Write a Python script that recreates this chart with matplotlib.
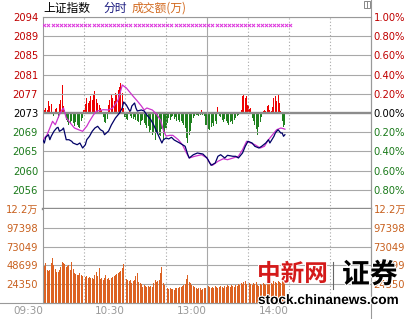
import matplotlib
matplotlib.use('Agg')
import matplotlib.pyplot as plt
from matplotlib.lines import Line2D
from matplotlib.patches import Rectangle
import matplotlib.patheffects as pe

plt.rcParams['font.family'] = ['DejaVu Sans', 'Noto Sans CJK SC']

# ---------------- data ----------------
P0 = 2073.4  # previous close
price_labels = ["2056", "2060", "2065", "2069", "2073", "2077", "2081", "2085", "2089", "2094"]
pct_labels = ["0.80%", "0.60%", "0.40%", "0.20%", "0.00%", "0.20%", "0.40%", "0.60%", "0.80%", "1.00%"]
pct_values = [-0.8, -0.6, -0.4, -0.2, 0.0, 0.2, 0.4, 0.6, 0.8, 1.0]
vol_ticks = [24350, 48699, 73049, 97398, 121747]
vol_labels = ["24350", "48699", "73049", "97398", "12.2万"]
time_ticks = [0, 60, 120, 180]
time_labels = ["09:30", "10:30", "13:00", "14:00"]

navy_t = [0, 1, 2, 4, 5, 6, 8, 10, 11, 12, 14, 15, 17, 19, 21, 22, 25, 27, 29, 31,
          32, 34, 36, 38, 40, 42, 44, 45, 48, 50, 53, 56, 58, 59, 61, 63, 64, 65, 67, 68,
          69, 72, 74, 76, 79, 81, 83, 86, 87, 88, 90, 92, 94, 96, 100, 104, 106, 107, 110, 113,
          117, 120, 123, 126, 128, 130, 133, 135, 139, 141, 143, 146, 148, 150, 153, 155, 158, 160, 163, 165,
          166, 169, 170, 172, 174, 175, 176, 177]
navy_v = [2067.57, 2066.92, 2068.15, 2068.71, 2067.63, 2068.37, 2069.45, 2070.16, 2070.31, 2069.45,
          2069.79, 2070.16, 2067.63, 2067.63, 2067.29, 2066.92, 2066.55, 2066.92, 2065.84, 2066.55,
          2067.63, 2068.37, 2069.45, 2070.16, 2070.53, 2069.79, 2069.45, 2068.71, 2069.51, 2070.81,
          2072.32, 2073.40, 2074.48, 2075.78, 2075.13, 2074.05, 2073.83, 2074.91, 2075.56, 2074.48,
          2073.83, 2074.05, 2073.83, 2072.97, 2071.89, 2070.81, 2069.51, 2067.57, 2066.92, 2067.57,
          2068.00, 2067.80, 2068.15, 2067.57, 2066.92, 2066.21, 2064.39, 2063.68, 2064.39, 2064.76,
          2064.54, 2063.68, 2062.10, 2062.60, 2064.05, 2064.39, 2063.68, 2064.26, 2064.05, 2064.05,
          2063.68, 2064.76, 2066.21, 2067.29, 2066.92, 2066.21, 2065.84, 2066.21, 2066.92, 2067.63,
          2066.92, 2068.37, 2069.08, 2069.79, 2069.08, 2069.08, 2068.37, 2068.71]

mag_t = [0, 3, 5, 7, 9, 11, 12, 14, 15, 17, 21, 23, 26, 29, 32, 34, 37, 39, 44, 48,
         51, 55, 58, 61, 64, 66, 69, 72, 74, 76, 80, 83, 86, 88, 90, 93, 95, 99, 102, 105,
         107, 111, 116, 120, 122, 124, 128, 132, 135, 139, 143, 146, 149, 152, 155, 159, 162, 165, 169, 171,
         174, 176, 177]
mag_v = [2067.57, 2068.71, 2070.16, 2071.61, 2070.87, 2072.32, 2073.03, 2074.11, 2074.48, 2072.32,
         2070.87, 2070.16, 2069.79, 2069.45, 2070.53, 2071.61, 2073.03, 2073.77, 2074.11, 2074.05,
         2074.48, 2076.21, 2079.45, 2078.80, 2077.72, 2077.00, 2075.99, 2074.91, 2074.05, 2074.48,
         2074.05, 2073.18, 2071.89, 2069.73, 2068.43, 2068.58, 2068.58, 2067.63, 2066.55, 2064.76,
         2063.68, 2064.05, 2064.39, 2063.68, 2062.60, 2062.10, 2062.97, 2063.53, 2063.31, 2063.68,
         2064.05, 2065.47, 2067.29, 2066.92, 2066.55, 2065.84, 2066.21, 2067.63, 2069.08, 2069.79,
         2070.16, 2070.01, 2069.90]

breadth = [-10, 3, 5, 3, 12, 7, 9, 0, -3, 4,
           5, -5, 9, 13, 28, 7, 3, -7, -9, -12,
           -11, -8, -10, -13, -9, -12, -14, -15, -8, -5,
           3, 9, 15, 10, 12, 17, 13, 18, 22, 14,
           10, 8, 5, 3, -4, -9, -10, -6, 8, 13,
           18, 15, 12, 20, 18, 23, 26, 30, 20, 5,
           -4, -6, -7, 2, -3, -5, -6, -4, -7, -8,
           -9, -12, -8, -7, -10, -12, -15, -13, -20, -17,
           -22, -19, -27, -18, -20, -22, -23, -16, -27, -20,
           -15, -10, -5, -7, -4, -3, -6, -4, -8, -7,
           -9, -8, -10, -12, -15, -25, -30, -22, -18, -10,
           -5, -3, -2, -2, -3, -2, 3, -2, -3, -12,
           -12, -16, -17, -14, -10, -13, -8, -11, 6, -3,
           -4, -7, -9, -6, -8, -10, -12, -9, -8, -11,
           -7, -5, -3, -2, 0, 3, 17, 18, 15, 17,
           8, 4, 5, -5, -8, -12, -16, -22, -14, -9,
           -4, 2, 3, 2, 7, 8, 3, 2, 6, 15,
           17, 12, 18, 10, 2, -8, -14, -12]

volume = [112780, 47420, 51260, 42290, 41010, 42290, 51260, 57670, 48700, 43570,
          39730, 39730, 42290, 46140, 52550, 51260, 49980, 46140, 47420, 48700,
          42290, 52550, 43570, 38450, 37170, 35890, 35890, 38450, 35890, 34600,
          33320, 33320, 34600, 32040, 33320, 32040, 32040, 30760, 35890, 39730,
          34600, 44860, 30760, 32040, 29480, 32040, 35890, 30760, 32040, 29480,
          32040, 33320, 34600, 35890, 37170, 38450, 39730, 41010, 44860, 49980,
          33320, 30760, 29480, 28200, 29480, 25630, 28200, 29480, 34600, 38450,
          26910, 25630, 24350, 20510, 23070, 21790, 20510, 21790, 20510, 21790,
          20510, 25630, 29480, 26910, 28200, 29480, 38450, 46140, 25630, 23070,
          20510, 19220, 17940, 19220, 17940, 17940, 16660, 19220, 19220, 19220,
          20510, 20510, 21790, 23070, 24350, 30760, 35890, 26910, 25630, 23070,
          21790, 20510, 19220, 17940, 19220, 19220, 16660, 17940, 19220, 19220,
          42290,
          21790, 20510, 19220, 20510, 19220, 21790, 20510, 19220, 20510, 21790,
          20510, 19220, 21790, 20510, 23070, 21790, 20510, 23070, 21790, 20510,
          23070, 21790, 24350, 23070, 25630, 24350, 26910, 28200, 24350, 23070,
          25630, 24350, 23070, 25630, 24350, 26910, 23070, 21790, 24350, 23070,
          25630, 24350, 23070, 25630, 24350, 26910, 25630, 24350, 28200, 26910,
          25630, 28200, 26910, 25630, 28200, 26910, 25630]

marker_minutes = list(range(1, 184, 3))
marker_level = 2092.4

minutes = list(range(len(volume)))

# ---------------- style ----------------
W, H = 411, 319
GRID = '#a8a8a8'
BORDER = '#999999'
RED_LBL = '#c00000'
GRN_LBL = '#1a7a1a'
VOL_LBL = '#c8601e'
RED_BAR = '#ee0000'
GRN_BAR = '#1e801e'
VOL_BAR = '#dc6222'
NAVY = '#000066'
MAG = '#cc33cc'

fig = plt.figure(figsize=(W / 100, H / 100), dpi=100, facecolor='white')


def rect(x0, y0, x1, y1):
    return [x0 / W, 1 - y1 / H, (x1 - x0) / W, (y1 - y0) / H]


price_rect = rect(43, 17, 371, 209)
vol_rect = rect(43, 209, 371, 303)

# breadth bars (own scale, below price axes)
ax_b = fig.add_axes(price_rect)
ax_b.set_xlim(0, 240)
ax_b.set_ylim(-96, 96)
ax_b.axis('off')
ax_b.bar(minutes, breadth, width=0.75, linewidth=0,
         color=[RED_BAR if v > 0 else GRN_BAR for v in breadth])

# price axes
ax_p = fig.add_axes(price_rect)
ax_p.patch.set_alpha(0)
ax_p.set_xlim(0, 240)
ax_p.set_ylim(P0 * 0.99, P0 * 1.01)
levels = [P0 * (1 + q / 100) for q in pct_values]
for lv, q in zip(levels, pct_values):
    if q == 0:
        ax_p.axhline(lv, color='#8c8c8c', lw=1.7, zorder=1)
    else:
        ax_p.axhline(lv, color=GRID, lw=0.8, zorder=1)
for m in [30, 60, 90, 150, 180, 210]:
    ax_p.axvline(m, color=GRID, lw=0.8, ls=(0, (1, 2)), zorder=1)
ax_p.axvline(120, color=GRID, lw=0.8, zorder=1)

ax_p.scatter(marker_minutes, [marker_level] * len(marker_minutes), marker='x',
             s=5, color='#dd33dd', linewidths=0.7, zorder=3)
ax_p.plot(mag_t, mag_v, color=MAG, lw=0.9, zorder=4)
ax_p.plot(navy_t, navy_v, color=NAVY, lw=0.9, zorder=5)

ax_p.set_xticks([])
ax_p.set_yticks(levels, labels=price_labels)
ax_p.tick_params(axis='y', length=0, pad=3.6, labelsize=7.2)
for lbl, q in zip(ax_p.get_yticklabels(), pct_values):
    lbl.set_color('black' if q == 0 else (RED_LBL if q > 0 else GRN_LBL))
for s in ['top', 'left', 'right']:
    ax_p.spines[s].set_color(BORDER)
    ax_p.spines[s].set_linewidth(0.8)
ax_p.spines['bottom'].set_color('#8c8c8c')
ax_p.spines['bottom'].set_linewidth(1.7)

sec = ax_p.secondary_yaxis('right', functions=(lambda p: (p / P0 - 1) * 100,
                                                lambda q: P0 * (1 + q / 100)))
sec.set_yticks(pct_values, labels=pct_labels)
sec.tick_params(length=0, pad=1.8, labelsize=7.2)
sec.spines['right'].set_visible(False)
for lbl, q in zip(sec.get_yticklabels(), pct_values):
    lbl.set_color('black' if q == 0 else (RED_LBL if q > 0 else GRN_LBL))

# volume axes
ax_v = fig.add_axes(vol_rect)
ax_v.set_xlim(0, 240)
ax_v.set_ylim(0, vol_ticks[-1])
for t in vol_ticks[:-1]:
    ax_v.axhline(t, color=GRID, lw=0.8, zorder=0)
for m in [30, 60, 90, 150, 180, 210]:
    ax_v.axvline(m, color=GRID, lw=0.8, ls=(0, (1, 2)), zorder=0)
ax_v.axvline(120, color=GRID, lw=0.8, zorder=0)
ax_v.bar(minutes, volume, width=0.7, color=VOL_BAR, linewidth=0, zorder=2)
ax_v.set_yticks(vol_ticks, labels=vol_labels)
ax_v.tick_params(axis='y', length=0, pad=3.6, labelsize=7.2, colors=VOL_LBL)
ax_v.set_xticks(time_ticks, labels=time_labels)
ax_v.tick_params(axis='x', length=0, pad=2.2, labelsize=7.5, colors='#999999')
for lbl in ax_v.get_xticklabels():
    lbl.set_horizontalalignment('right')
ax_v.spines['top'].set_visible(False)
for s in ['left', 'right', 'bottom']:
    ax_v.spines[s].set_color(BORDER)
    ax_v.spines[s].set_linewidth(0.8)
sec_v = ax_v.secondary_yaxis('right')
sec_v.set_yticks(vol_ticks, labels=vol_labels)
sec_v.tick_params(length=0, pad=1.8, labelsize=7.2, colors=VOL_LBL)
sec_v.spines['right'].set_visible(False)

# outer lines
fig.add_artist(Line2D([0, 371 / W], [16 / H, 16 / H], color=BORDER, lw=0.8))
fig.add_artist(Line2D([371 / W, 371 / W], [0, 1], color=BORDER, lw=0.8))
fig.add_artist(Rectangle((364 / W, 1 - 8 / H), 6 / W, 7 / H, fill=False,
                         edgecolor='#888888', lw=0.7))
fig.add_artist(Line2D([367 / W, 367 / W], [1 - 8 / H, 1 - 1 / H], color='#888888', lw=0.7))

# title
cjk = ['Noto Sans CJK SC', 'DejaVu Sans']
fig.text(43 / W, 1 - 8 / H, '上证指数', fontsize=8.5, family=cjk, color='black', va='center')
fig.text(103 / W, 1 - 8 / H, '分时', fontsize=8.5, family=cjk, color='#1a1a80', va='center')
fig.text(132 / W, 1 - 8 / H, '成交额(万)', fontsize=8.5, family=cjk, color='#d2691e', va='center')

# watermark
stroke = [pe.withStroke(linewidth=1.5, foreground='white')]
fig.text(257 / W, 1 - 274 / H, '中新网', fontsize=17, family=cjk, fontweight='bold',
         color='#d41a1a', va='center', zorder=10, path_effects=stroke)
fig.add_artist(Line2D([333 / W, 333 / W], [1 - 289 / H, 1 - 262 / H], color='#666666', lw=0.8, zorder=10))
fig.text(342 / W, 1 - 275 / H, '证券', fontsize=20, family=cjk, fontweight='bold',
         color='black', va='center', zorder=10, path_effects=stroke)
fig.text(258 / W, 1 - 300 / H, 'stock.chinanews.com', fontsize=9.8, family=['Liberation Sans', 'DejaVu Sans'],
         fontweight='bold', color='black', va='center', zorder=10, path_effects=stroke)

fig.savefig('out.png', dpi=100, facecolor='white')
